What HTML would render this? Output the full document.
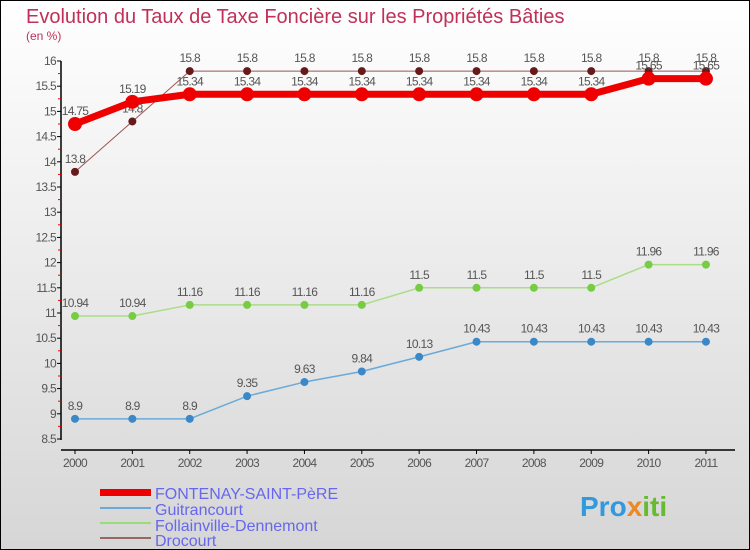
<!DOCTYPE html>
<html><head><meta charset="utf-8"><style>
body{margin:0}
svg{display:block;font-family:"Liberation Sans",sans-serif}
</style></head><body>
<svg id="c" width="750" height="550">
<defs><linearGradient id="bg" x1="0" y1="0" x2="0" y2="1"><stop offset="0" stop-color="#ffffff"/><stop offset="1" stop-color="#d6d6d6"/></linearGradient></defs>
<rect x="0.5" y="0.5" width="749" height="549" fill="url(#bg)" stroke="#000"/>
<text x="26" y="23" font-size="20" fill="#c0305a">Evolution du Taux de Taxe Foncière sur les Propriétés Bâties</text>
<text x="26" y="40" font-size="12" fill="#c0305a">(en %)</text>
<g id="axes"></g><g id="series"></g>
<g>
<rect x="100" y="489" width="51" height="7" fill="#ee0000"/>
<text x="155" y="499" font-size="16" fill="#6666ee">FONTENAY-SAINT-PèRE</text>
<rect x="100" y="507" width="51" height="2" fill="#6aaad8"/>
<text x="155" y="515" font-size="16" fill="#6666ee">Guitrancourt</text>
<rect x="100" y="522" width="51" height="2" fill="#99dd77"/>
<text x="155" y="531" font-size="16" fill="#6666ee">Follainville-Dennemont</text>
<rect x="100" y="537" width="51" height="2" fill="#996666"/>
<text x="155" y="546" font-size="16" fill="#6666ee">Drocourt</text>
</g>
<text x="580" y="516" font-size="28" font-weight="bold" fill="#3399dd">Pro<tspan fill="#ee8822">x</tspan><tspan fill="#66bb33">iti</tspan></text>
</svg>
<script>
const years=[2000,2001,2002,2003,2004,2005,2006,2007,2008,2009,2010,2011];
const yTicks=[8.5,9,9.5,10,10.5,11,11.5,12,12.5,13,13.5,14,14.5,15,15.5,16];
const fontenay=[14.75,15.19,15.34,15.34,15.34,15.34,15.34,15.34,15.34,15.34,15.65,15.65];
const guitrancourt=[8.9,8.9,8.9,9.35,9.63,9.84,10.13,10.43,10.43,10.43,10.43,10.43];
const follainville=[10.94,10.94,11.16,11.16,11.16,11.16,11.5,11.5,11.5,11.5,11.96,11.96];
const drocourt=[13.8,14.8,15.8,15.8,15.8,15.8,15.8,15.8,15.8,15.8,15.8,15.8];
const NS='http://www.w3.org/2000/svg';
const X=i=>75+i*57.36;
const Y=v=>439-(v-8.5)*50.4;
function mk(t,a,p){const e=document.createElementNS(NS,t);for(const k in a)e.setAttribute(k,a[k]);p.appendChild(e);return e;}
const ax=document.getElementById('axes');
let l=mk('line',{x1:61,y1:61,x2:61,y2:440,stroke:'#000','stroke-width':1.5},ax);


l=mk('line',{x1:61,y1:450,x2:735,y2:450,stroke:'#000','stroke-width':1.5},ax);


yTicks.forEach((v,i)=>{
 mk('line',{x1:57,y1:Y(v),x2:61,y2:Y(v),stroke:'#000'},ax);
 if(i<yTicks.length-1)mk('line',{x1:58,y1:Y(v+0.25),x2:61,y2:Y(v+0.25),stroke:'#e00'},ax);
 const t=mk('text',{x:56,y:Y(v)+4,'font-size':12,'text-anchor':'end',fill:'#555','letter-spacing':'-0.7'},ax);
 t.textContent=String(v);
 
 
});
years.forEach((yr,i)=>{
 mk('line',{x1:X(i),y1:450,x2:X(i),y2:454,stroke:'#000'},ax);
 const t=mk('text',{x:X(i),y:467,'font-size':12,'text-anchor':'middle',fill:'#555','letter-spacing':'-0.7'},ax);
 t.textContent=String(yr);
 
 
});
const sg=document.getElementById('series');
function series(name,vals,color,w,r,fill){
 const g=mk('g',{},sg);
 
 
 const p=mk('polyline',{points:vals.map((v,i)=>X(i)+','+Y(v)).join(' '),fill:'none',stroke:color,'stroke-width':w,'stroke-linejoin':'round'},g);
 
 
 vals.forEach((v,i)=>{
  const c=mk('circle',{cx:X(i),cy:Y(v),r:r,fill:fill},g);
  
  
  const t=mk('text',{x:X(i),y:Y(v)-9,'font-size':12,'text-anchor':'middle',fill:'#555','letter-spacing':'-0.7'},g);
  t.textContent=String(v);
  
  
 });
}
series('guitrancourt',guitrancourt,'#6aaad8',1.5,4,'#3a88c8');
series('follainville',follainville,'#aadd88',1.5,4,'#77cc44');
series('drocourt',drocourt,'#995555',1,4,'#661a1a');
series('fontenay',fontenay,'#ee0000',7,7,'#ee0000');
</script>
</body></html>
